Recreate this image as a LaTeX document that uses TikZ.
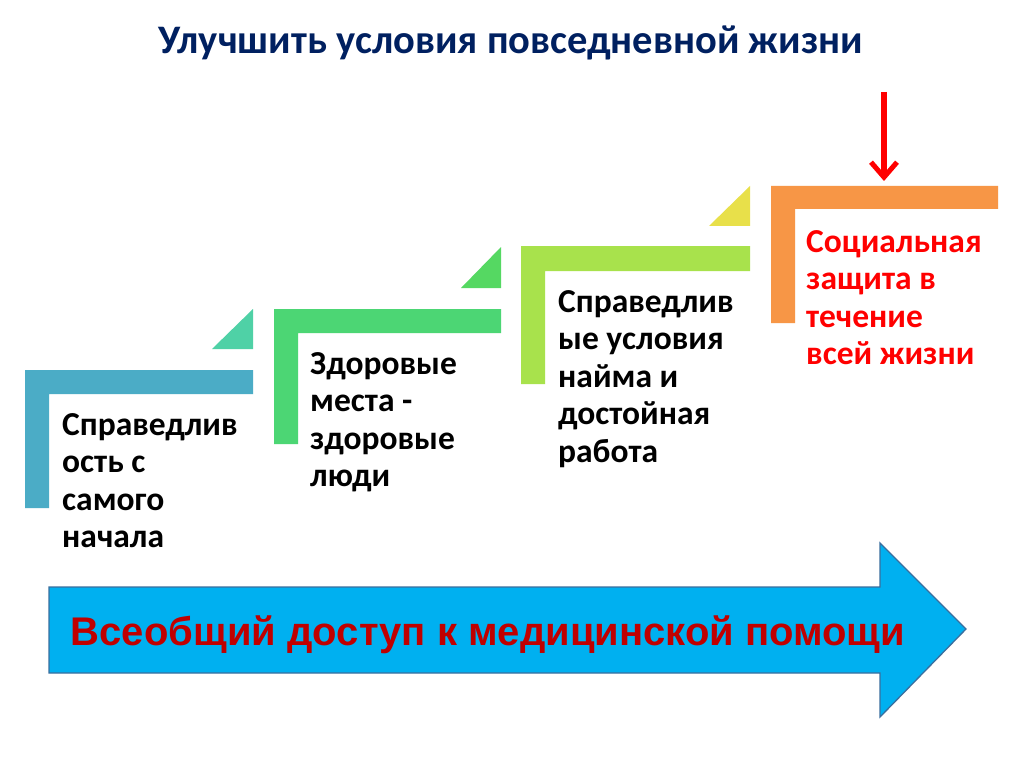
\documentclass[tikz,border=0pt]{standalone}
\usepackage{fontspec}
\setmainfont{Carlito}
\newfontfamily\arialfont{Liberation Sans}
\usetikzlibrary{arrows.meta}
\definecolor{cBlue}{HTML}{4BACC6}
\definecolor{cTeal}{HTML}{4FD1A6}
\definecolor{cGreen}{HTML}{4CD674}
\definecolor{cGreenTri}{HTML}{55D862}
\definecolor{cLime}{HTML}{A8E24C}
\definecolor{cYellow}{HTML}{E8E04A}
\definecolor{cOrange}{HTML}{F79646}
\definecolor{cArrow}{HTML}{00B0F0}
\definecolor{cArrowEdge}{HTML}{3A6E9E}
\definecolor{cDarkRed}{HTML}{C00000}
\definecolor{cNavy}{HTML}{002060}
\newcommand\mylines[1]{\vtop{\baselineskip=37.5pt\lineskiplimit=-100pt\lineskip=0pt #1}}
\begin{document}
\begin{tikzpicture}[x=1pt,y=-1pt,
  boxtext/.style={anchor=base west,inner sep=0pt,font=\fontsize{33.5}{37.5}\selectfont\bfseries},
  redtext/.style={boxtext,text=red}]
\useasboundingbox (0,0) rectangle (1024,767);
\fill[white] (0,0) rectangle (1024,767);
% title
\node[anchor=base,inner sep=0pt,text=cNavy,font=\fontsize{40.5}{44}\selectfont\bfseries] (title) at (511,54) {Улучшить условия повседневной жизни};
% step 1
\fill[cBlue] (25,370) -- (253,370) -- (253,394) -- (49,394) -- (49,508) -- (25,508) -- cycle;
\fill[cTeal] (212,349) -- (253,349) -- (253,309) -- cycle;
\node[boxtext] (t1) at (62,435) {\mylines{\hbox{Справедлив}\hbox{ость с}\hbox{самого}\hbox{начала}}};
% step 2
\fill[cGreen] (274,309) -- (501,309) -- (501,333) -- (298,333) -- (298,444) -- (274,444) -- cycle;
\fill[cGreenTri] (461,288) -- (501,288) -- (501,247) -- cycle;
\node[boxtext] (t2) at (310,374) {\mylines{\hbox{Здоровые}\hbox{места -}\hbox{здоровые}\hbox{люди}}};
% step 3
\fill[cLime] (521,246) -- (750,246) -- (750,271) -- (545,271) -- (545,384) -- (521,384) -- cycle;
\fill[cYellow] (709,226) -- (750,226) -- (750,186) -- cycle;
\node[boxtext] (t3) at (558,312) {\mylines{\hbox{Справедлив}\hbox{ые условия}\hbox{найма и}\hbox{достойная}\hbox{работа}}};
% step 4
\fill[cOrange] (771,186) -- (998,186) -- (998,209) -- (795,209) -- (795,323) -- (771,323) -- cycle;
\coordinate (top4) at (884,181);
\coordinate (arrstart) at (884,92);
\node[redtext] (t4) at (806,252) {\mylines{\hbox{Социальная}\hbox{защита в}\hbox{течение}\hbox{всей жизни}}};
\draw[red,line width=5.5pt,-{Straight Barb[length=15pt,width=26pt,line width=5pt]}] (arrstart) -- (top4);
% big arrow
\draw[fill=cArrow,draw=cArrowEdge,line width=1.3pt,line join=miter] (49,587) -- (880,587) -- (880,543) -- (966,629) -- (880,717) -- (880,673) -- (49,673) -- cycle;
\node[anchor=base,inner sep=0pt,text=cDarkRed,font=\arialfont\fontsize{40}{44}\selectfont\bfseries] (bigtext) at (488,645) {Всеобщий доступ к медицинской помощи};
\end{tikzpicture}
\end{document}
